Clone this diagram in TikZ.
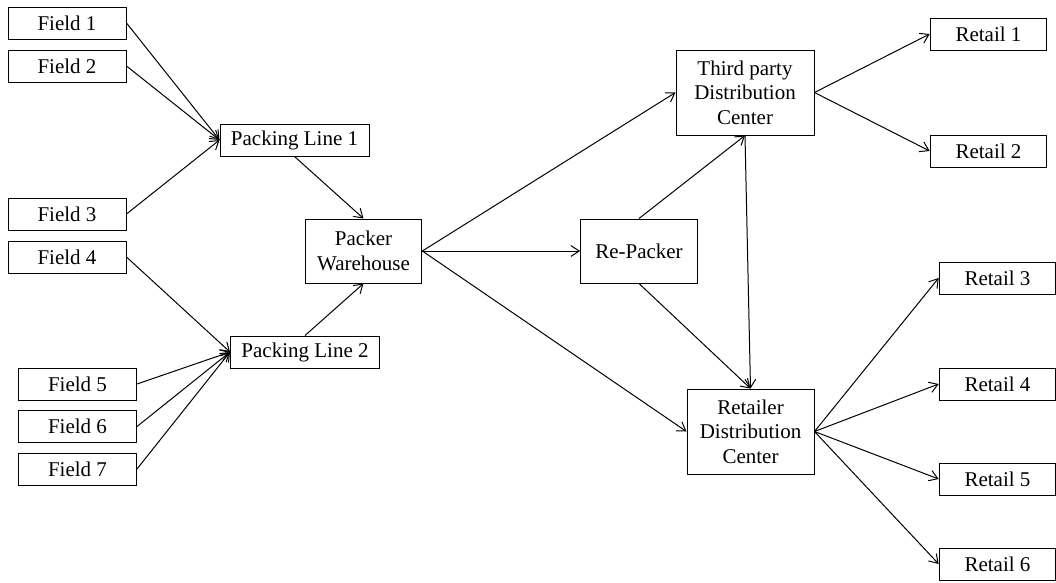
\documentclass[tikz,border=0pt]{standalone}
\usepackage{fontspec}
\setmainfont{Liberation Serif}
\usepackage{tikz}
\usetikzlibrary{shapes, arrows.meta, positioning}

\tikzset{
  box/.style={draw, line width=0.6pt, inner sep=1pt, minimum height=19.2pt, align=center},
  field/.style={box, minimum width=70.8pt},
  line/.style={box, minimum width=89.4pt},
  hub/.style={box, minimum height=38.4pt, minimum width=70pt},
  center/.style={box, minimum height=51pt},
  shop/.style={box, minimum width=70pt}
}

\begin{document}
\begin{tikzpicture}[>={Straight Barb[length=5pt,width=6.5pt]}, x=0.6pt, y=-0.6pt, line width=0.6pt]
    \fontsize{12.6}{14.7}\selectfont
    \useasboundingbox (0,0) rectangle (1056,582);

    % fields
    \node[field] (f1) at (67,23) {Field 1};
    \node[field] (f2) at (67,66) {Field 2};
    \node[field] (f3) at (67,214) {Field 3};
    \node[field] (f4) at (67,257) {Field 4};
    \node[field] (f5) at (77.5,384) {Field 5};
    \node[field] (f6) at (77.5,426.5) {Field 6};
    \node[field] (f7) at (77.5,469) {Field 7};

    % packing lines
    \node[line] (pl1) at (294.5,140) {Packing Line 1};
    \node[line] (pl2) at (305,352) {Packing Line 2};

    % packer and re-packer
    \node[hub] (pw) at (363.5,251) {Packer\\Warehouse};
    \node[hub] (rp) at (639,251) {Re-Packer};

    % distribution centers
    \node[center, minimum width=82.8pt] (tp) at (745,92.5) {Third party\\Distribution\\Center};
    \node[center, minimum width=76.2pt] (rdc) at (750.5,431.5) {Retailer\\Distribution\\Center};

    % retail
    \node[shop] (r1) at (988.5,34) {Retail 1};
    \node[shop] (r2) at (988.5,151) {Retail 2};
    \node[shop] (r3) at (997.5,278) {Retail 3};
    \node[shop] (r4) at (997.5,384) {Retail 4};
    \node[shop] (r5) at (997.5,479) {Retail 5};
    \node[shop] (r6) at (997.5,564) {Retail 6};

    % flows
    \foreach \f in {f1,f2,f3} \draw[->] (\f.east) -- (pl1.west);
    \foreach \f in {f4,f5,f6,f7} \draw[->] (\f.east) -- (pl2.west);
    \draw[->] (pl1.south) -- (pw.north);
    \draw[->] (pl2.north) -- (pw.south);
    \draw[->] (pw.east) -- (tp.west);
    \draw[->] (pw.east) -- (rp.west);
    \draw[->] (pw.east) -- (rdc.west);
    \draw[->] (rp.north) -- (tp.south);
    \draw[->] (rp.south) -- (rdc.north);
    \draw[->] (tp.south) -- (rdc.north);
    \foreach \r in {r1,r2} \draw[->] (tp.east) -- (\r.west);
    \foreach \r in {r3,r4,r5,r6} \draw[->] (rdc.east) -- (\r.west);
\end{tikzpicture}
\end{document}
